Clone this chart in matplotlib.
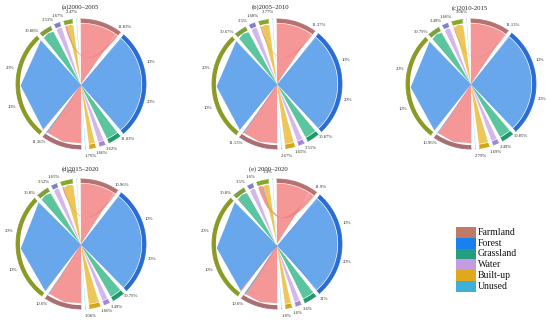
import numpy as np
import matplotlib
matplotlib.use('Agg')
import matplotlib.pyplot as plt
from matplotlib.path import Path
from matplotlib.patches import PathPatch, Rectangle

plt.rcParams['font.family'] = ['Liberation Serif', 'DejaVu Serif']

categories = ['Farmland', 'Forest', 'Grassland', 'Water', 'Built-up', 'Unused']
titles = ['(a)2000–2005', '(b)2005–2010', '(c)2010-2015', '(d)2015–2020', '(e) 2000–2020']

# shares (%) of the first year (right half) and second year (left half)
src_a = [11.83, 31.03, 3.62, 1.66, 1.76, 0.10]
tgt_a = [11.36, 30.86, 3.53, 1.67, 2.47, 0.11]
src_b = [11.37, 30.87, 3.51, 1.65, 2.67, 0.10]
tgt_b = [11.13, 30.67, 3.50, 1.68, 2.77, 0.10]
src_c = [11.13, 30.85, 3.49, 1.69, 2.79, 0.10]
tgt_c = [10.96, 30.79, 3.49, 1.66, 3.06, 0.10]
src_d = [10.96, 30.79, 3.49, 1.66, 3.06, 0.10]
tgt_d = [10.60, 30.80, 3.52, 1.65, 3.40, 0.10]
src_e = [11.90, 31.00, 3.60, 1.60, 1.80, 0.10]
tgt_e = [10.60, 30.80, 3.50, 1.60, 3.40, 0.10]

# transition flows (%), rows = from, cols = to
flows_a = [[10.95, 0.18, 0.06, 0.04, 0.60, 0.00],
           [0.30, 30.55, 0.08, 0.02, 0.08, 0.00],
           [0.08, 0.12, 3.38, 0.01, 0.03, 0.00],
           [0.02, 0.01, 0.01, 1.60, 0.02, 0.00],
           [0.01, 0.00, 0.00, 0.00, 1.75, 0.00],
           [0.00, 0.00, 0.00, 0.00, 0.00, 0.10]]
flows_b = [[10.75, 0.12, 0.04, 0.04, 0.42, 0.00],
           [0.28, 30.45, 0.05, 0.02, 0.07, 0.00],
           [0.06, 0.09, 3.33, 0.01, 0.02, 0.00],
           [0.02, 0.01, 0.01, 1.59, 0.02, 0.00],
           [0.02, 0.00, 0.00, 0.00, 2.65, 0.00],
           [0.00, 0.00, 0.00, 0.00, 0.00, 0.10]]
flows_c = [[10.65, 0.10, 0.04, 0.03, 0.31, 0.00],
           [0.22, 30.55, 0.04, 0.01, 0.03, 0.00],
           [0.05, 0.10, 3.32, 0.01, 0.01, 0.00],
           [0.02, 0.02, 0.02, 1.60, 0.03, 0.00],
           [0.02, 0.02, 0.07, 0.01, 2.67, 0.00],
           [0.00, 0.00, 0.00, 0.00, 0.00, 0.10]]
flows_d = [[10.30, 0.12, 0.05, 0.03, 0.46, 0.00],
           [0.20, 30.52, 0.03, 0.01, 0.03, 0.00],
           [0.05, 0.13, 3.28, 0.01, 0.02, 0.00],
           [0.03, 0.02, 0.02, 1.57, 0.02, 0.00],
           [0.02, 0.01, 0.14, 0.03, 2.86, 0.00],
           [0.00, 0.00, 0.00, 0.00, 0.00, 0.10]]
flows_e = [[10.10, 0.30, 0.08, 0.07, 1.35, 0.00],
           [0.35, 30.35, 0.08, 0.03, 0.19, 0.00],
           [0.10, 0.12, 3.30, 0.02, 0.06, 0.00],
           [0.03, 0.02, 0.02, 1.48, 0.05, 0.00],
           [0.02, 0.01, 0.02, 0.00, 1.75, 0.00],
           [0.00, 0.00, 0.00, 0.00, 0.00, 0.10]]

panels = [(src_a, tgt_a, flows_a), (src_b, tgt_b, flows_b), (src_c, tgt_c, flows_c),
          (src_d, tgt_d, flows_d), (src_e, tgt_e, flows_e)]
centers = [(81, 84), (277, 84), (471, 84), (81, 244), (277, 244)]
title_pos = [(80, 7), (271, 7), (470, 8), (80, 169), (268, 169)]

ribbon_colors = ['#F47A7A', '#3F8FE8', '#2DB585', '#C9A3EA', '#E8B82A', '#3FC9D6']
src_ring = ['#B5726E', '#2B6BD6', '#1E9A6A', '#A585DA', '#D4A514', '#48C0D0']
tgt_ring = ['#A86E72', '#8A9A24', '#7E9E3C', '#7A82D0', '#86A82A', '#9FD0D0']
legend_colors = ['#C07A66', '#1A7FF0', '#259E80', '#C39BE0', '#E0A81E', '#3EB0D8']

R = 65.0
GAP = 3.5
ROT = -2.0

fig = plt.figure(figsize=(5.5, 3.24), dpi=100)
ax = fig.add_axes([0, 0, 1, 1])
ax.set_xlim(0, 550)
ax.set_ylim(324, 0)
ax.axis('off')


def pt(cx, cy, r, th):
    t = np.deg2rad(th)
    return (cx + r * np.sin(t), cy - r * np.cos(t))


def arc_pts(cx, cy, r, a0, a1, n=40):
    return [pt(cx, cy, r, a) for a in np.linspace(a0, a1, n)]


def layout(vals, start):
    span = (180 - 6 * GAP) / sum(vals)
    segs = []
    a = start + GAP / 2
    for v in vals:
        segs.append((a, a + v * span))
        a += v * span + GAP
    return segs, span


def ring(cx, cy, a0, a1, color):
    outer = arc_pts(cx, cy, R, a0, a1)
    inner = arc_pts(cx, cy, R * 0.94, a1, a0)
    verts = outer + inner + [outer[0]]
    codes = [Path.MOVETO] + [Path.LINETO] * (len(verts) - 2) + [Path.CLOSEPOLY]
    ax.add_patch(PathPatch(Path(verts, codes), facecolor=color, edgecolor='none', zorder=3))
    ax.plot(*zip(*outer), color=color, lw=0.6, zorder=3.5, alpha=0.9)


for (src, tgt, flows), (cx, cy), title, tp in zip(panels, centers, titles, title_pos):
    ssegs, sspan = layout(src, ROT)
    tsegs, tspan = layout(tgt, 180 + ROT)
    fl = np.array(flows, dtype=float)
    spos = {}
    for i in range(6):
        a0, a1 = ssegs[i]
        tot = fl[i].sum()
        a = a0
        for j in range(6):
            w = fl[i, j] / tot * (a1 - a0) if tot > 0 else 0
            spos[(i, j)] = (a, a + w)
            a += w
    tpos = {}
    for j in range(6):
        a0, a1 = tsegs[j]
        tot = fl[:, j].sum()
        a = a0
        for i in range(6):
            w = fl[i, j] / tot * (a1 - a0) if tot > 0 else 0
            tpos[(i, j)] = (a, a + w)
            a += w
    rs, rt = R * 0.93, R * 0.91
    for i in range(6):
        for j in range(6):
            if fl[i, j] <= 0:
                continue
            s0, s1 = spos[(i, j)]
            t0, t1 = tpos[(i, j)]
            verts = arc_pts(cx, cy, rs, s0, s1, 30)
            codes = [Path.MOVETO] + [Path.LINETO] * (len(verts) - 1)
            verts += [(cx, cy), pt(cx, cy, rt, t1)]
            codes += [Path.CURVE3, Path.CURVE3]
            verts += [pt(cx, cy, R * 0.93, (t0 + t1) / 2), pt(cx, cy, rt, t0)]
            codes += [Path.LINETO, Path.LINETO]
            verts += [(cx, cy), verts[0]]
            codes += [Path.CURVE3, Path.CURVE3]
            ax.add_patch(PathPatch(Path(verts, codes), facecolor=ribbon_colors[i],
                                   edgecolor='none', alpha=0.78, zorder=2))
    for k in range(6):
        ring(cx, cy, ssegs[k][0], ssegs[k][1], src_ring[k])
        ring(cx, cy, tsegs[k][0], tsegs[k][1], tgt_ring[k])
    for k in range(5):
        for segs, vals in ((ssegs, src), (tsegs, tgt)):
            x, y = pt(cx, cy, R * 1.11, segs[k][1])
            ax.text(x, y, f'{vals[k]:g}%', fontsize=3.4, color='#333333',
                    ha='center', va='center', zorder=5)
    for segs, span in ((ssegs, sspan), (tsegs, tspan)):
        for tick in (10, 20):
            x, y = pt(cx, cy, R * 1.12, segs[1][0] + tick * span)
            ax.text(x, y, f'{tick}%', fontsize=3.4, color='#333333',
                    ha='center', va='center', zorder=5)
    ax.text(tp[0], tp[1], title, fontsize=4.8, ha='center', va='center', color='#222222')

# legend
ly0, lh = 227, 10.8
for k, (name, col) in enumerate(zip(categories, legend_colors)):
    ax.add_patch(Rectangle((456, ly0 + k * lh), 20, lh, facecolor=col, edgecolor='none'))
    ax.text(478, ly0 + k * lh + lh / 2, name, fontsize=7, ha='left', va='center', color='#111111')

fig.savefig('out.png', dpi=100)
